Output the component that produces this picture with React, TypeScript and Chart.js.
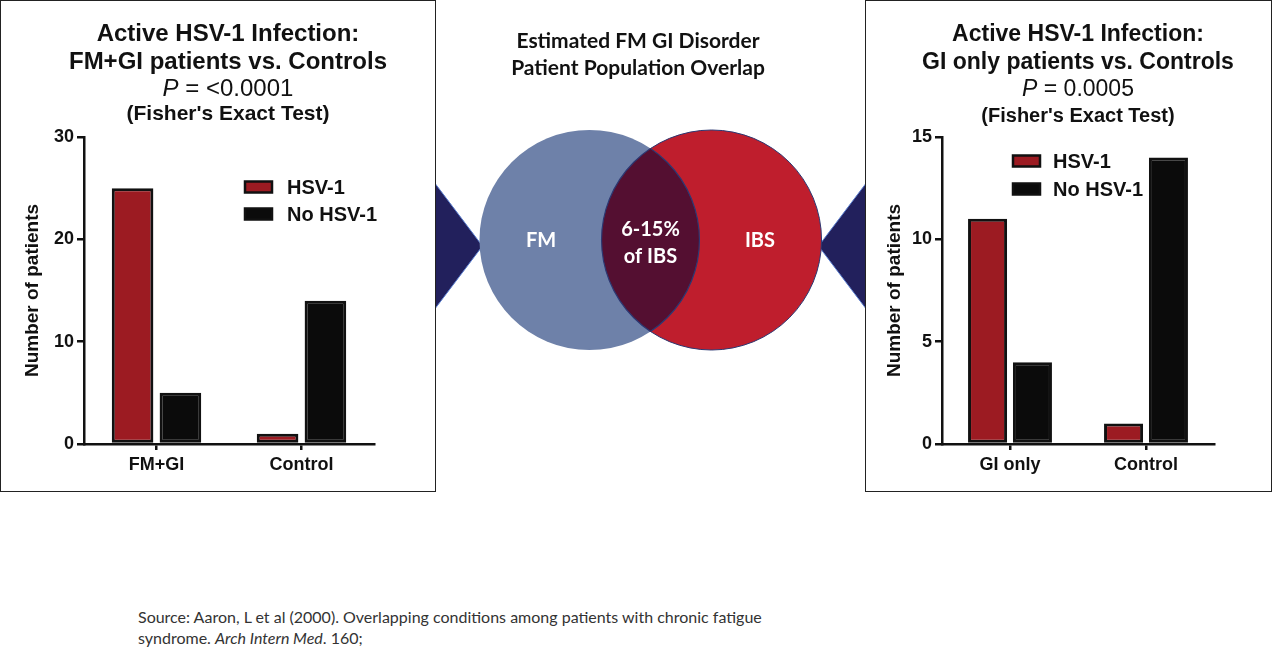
import React, { useEffect, useRef } from 'react';
import { Chart, registerables } from 'chart.js';

Chart.register(...registerables);

// ---------- data ----------
const seriesNames = ['HSV-1', 'No HSV-1'];

const leftCategories = ['FM+GI', 'Control'];
const leftHsv = [25, 1];
const leftNoHsv = [5, 14];
const leftYMax = 30;
const leftYStep = 10;

const rightCategories = ['GI only', 'Control'];
const rightHsv = [11, 1];
const rightNoHsv = [4, 14];
const rightYMax = 15;
const rightYStep = 5;

const yAxisTitle = 'Number of patients';

const vennSets = ['FM', 'IBS'];
const vennCenters = [-0.555, 0.555]; // centre offsets, in circle radii
const overlapLines = ['6-15%', 'of IBS'];

// ---------- styles ----------
const ARIAL = '"Liberation Sans", Arial, Helvetica, sans-serif';
const CAL = 'Lato, "Open Sans", sans-serif';
const RED = '#9c1b22';
const BLACK = '#0b0b0b';
const INK = '#111111';
const vennFill = ['#6e81a9', '#bf1e2d'];
const vennEdge = ['rgba(0,0,0,0)', '#2c3872'];
const OVERLAP = '#540f31';
const NAVY = '#22205c';
const VENN_W = 431;
const VENN_H = 480;
const CIRCLE_R = 110; // px per radius unit

const insideLegend = {
  id: 'insideLegend',
  afterDraw(chart: any, _args: any, opts: any) {
    const ctx = chart.ctx;
    ctx.save();
    chart.data.datasets.forEach((ds: any, i: number) => {
      const y = opts.y + i * opts.gap;
      ctx.fillStyle = ds.backgroundColor;
      ctx.fillRect(opts.x, y - 5.5, 27, 11);
      ctx.strokeStyle = INK;
      ctx.lineWidth = 2.5;
      ctx.strokeRect(opts.x, y - 5.5, 27, 11);
      ctx.fillStyle = INK;
      ctx.font = `bold ${opts.size}px ${ARIAL}`;
      ctx.textBaseline = 'middle';
      ctx.textAlign = 'left';
      ctx.fillText(ds.label, opts.x + opts.textOffset, y + 1);
    });
    ctx.restore();
  },
};

type Area = { left: number; top: number; right: number; bottom: number };
type TitleLine = { text: React.ReactNode; cy: number; size: number; bold: boolean };

function BarPanel(p: {
  left: number;
  width: number;
  height: number;
  categories: string[];
  hsv: number[];
  noHsv: number[];
  yMax: number;
  yStep: number;
  area: Area;
  yTitleX: number;
  legend: { x: number; y: number; gap: number; textOffset: number; size: number };
  titleCx: number;
  titles: TitleLine[];
}) {
  const ref = useRef<HTMLCanvasElement>(null);
  useEffect(() => {
    const titleSize = 19;
    const lineH = titleSize * 1.2;
    const chart = new Chart(ref.current as HTMLCanvasElement, {
      type: 'bar',
      data: {
        labels: p.categories,
        datasets: [
          {
            label: seriesNames[0],
            data: p.hsv,
            backgroundColor: RED,
            borderColor: INK,
            borderWidth: 3,
            borderSkipped: false,
            barPercentage: 0.87,
            categoryPercentage: 0.66,
          },
          {
            label: seriesNames[1],
            data: p.noHsv,
            backgroundColor: BLACK,
            borderColor: INK,
            borderWidth: 3,
            borderSkipped: false,
            barPercentage: 0.87,
            categoryPercentage: 0.66,
          },
        ],
      },
      options: {
        animation: false,
        responsive: false,
        maintainAspectRatio: false,
        events: [],
        layout: {
          padding: { top: p.area.top, right: p.width - p.area.right, left: 0, bottom: 0 },
        },
        plugins: {
          legend: { display: false },
          tooltip: { enabled: false },
          insideLegend: p.legend,
        } as any,
        scales: {
          x: {
            grid: {
              display: true,
              drawOnChartArea: false,
              drawTicks: true,
              tickLength: 6,
              color: INK,
              lineWidth: 2.5,
              offset: false,
            },
            border: { display: true, color: INK, width: 2.5 },
            ticks: { font: { family: ARIAL, size: 18, weight: 'bold' }, color: INK, padding: 4 },
            afterFit: (s: any) => {
              s.height = p.height - p.area.bottom;
            },
          },
          y: {
            min: 0,
            max: p.yMax,
            ticks: {
              stepSize: p.yStep,
              font: { family: ARIAL, size: 18, weight: 'bold' },
              color: INK,
              padding: 3,
            },
            grid: {
              display: true,
              drawOnChartArea: false,
              drawTicks: true,
              tickLength: 7,
              color: INK,
              lineWidth: 2.5,
            },
            border: { display: true, color: INK, width: 2.5 },
            title: {
              display: true,
              text: yAxisTitle,
              font: { family: ARIAL, size: titleSize, weight: 'bold' },
              color: INK,
              padding: { top: p.yTitleX - lineH / 2, bottom: 0 },
            },
            afterFit: (s: any) => {
              s.width = p.area.left;
            },
          },
        },
      },
      plugins: [insideLegend],
    } as any);
    return () => chart.destroy();
  }, []);

  return (
    <div
      style={{
        position: 'absolute',
        left: p.left,
        top: 0,
        width: p.width,
        height: p.height,
        background: '#fff',
      }}
    >
      <canvas
        ref={ref}
        width={p.width}
        height={p.height}
        style={{ position: 'absolute', left: 0, top: 0, width: p.width, height: p.height }}
      />
      {p.titles.map((t, i) => (
        <div
          key={i}
          style={{
            position: 'absolute',
            left: p.titleCx - 220,
            width: 440,
            top: t.cy - 16,
            height: 32,
            lineHeight: '32px',
            textAlign: 'center',
            fontFamily: ARIAL,
            fontSize: t.size,
            fontWeight: t.bold ? 'bold' : 'normal',
            color: INK,
            whiteSpace: 'nowrap',
          }}
        >
          {t.text}
        </div>
      ))}
      <div
        style={{
          position: 'absolute',
          left: 0,
          top: 0,
          width: p.width,
          height: p.height,
          boxSizing: 'border-box',
          border: '1.5px solid #222',
          pointerEvents: 'none',
        }}
      />
    </div>
  );
}

const vennPlugin = {
  id: 'vennDecor',
  beforeDatasetsDraw(chart: any) {
    const ctx = chart.ctx;
    const a = chart.getDatasetMeta(0).data[0];
    const b = chart.getDatasetMeta(1).data[0];
    const ra = CIRCLE_R;
    const rb = CIRCLE_R;
    const { left, right } = chart.chartArea;
    const h = 0.57 * ra;
    const dy = 0.055 * ra;
    ctx.save();
    ctx.fillStyle = NAVY;
    ctx.strokeStyle = '#5b7fd0';
    ctx.lineWidth = 1;
    ctx.beginPath();
    ctx.moveTo(left, a.y + dy - h);
    ctx.lineTo(a.x - ra + 3, a.y + dy);
    ctx.lineTo(left, a.y + dy + h);
    ctx.closePath();
    ctx.fill();
    ctx.stroke();
    ctx.beginPath();
    ctx.moveTo(right, b.y + dy - h);
    ctx.lineTo(b.x + rb - 3, b.y + dy);
    ctx.lineTo(right, b.y + dy + h);
    ctx.closePath();
    ctx.fill();
    ctx.stroke();
    ctx.restore();
  },
  afterDatasetsDraw(chart: any) {
    const ctx = chart.ctx;
    const a = chart.getDatasetMeta(0).data[0];
    const b = chart.getDatasetMeta(1).data[0];
    const ra = CIRCLE_R;
    const rb = CIRCLE_R;
    ctx.save();
    ctx.beginPath();
    ctx.arc(a.x, a.y, ra, 0, Math.PI * 2);
    ctx.clip();
    ctx.beginPath();
    ctx.arc(b.x, b.y, rb, 0, Math.PI * 2);
    ctx.fillStyle = OVERLAP;
    ctx.fill();
    ctx.strokeStyle = '#2c3872';
    ctx.lineWidth = 1.2;
    ctx.stroke();
    ctx.restore();
    ctx.save();
    ctx.beginPath();
    ctx.arc(b.x, b.y, rb, 0, Math.PI * 2);
    ctx.clip();
    ctx.beginPath();
    ctx.arc(a.x, a.y, ra, 0, Math.PI * 2);
    ctx.strokeStyle = '#2c3872';
    ctx.lineWidth = 1.2;
    ctx.stroke();
    ctx.restore();

    ctx.save();
    ctx.fillStyle = '#ffffff';
    ctx.font = `bold 20px ${CAL}`;
    ctx.textAlign = 'center';
    ctx.textBaseline = 'middle';
    ctx.fillText(vennSets[0], a.x - 0.44 * ra, a.y + 1);
    ctx.fillText(vennSets[1], b.x + 0.44 * rb, b.y + 1);
    const mx = (a.x + b.x) / 2;
    ctx.fillText(overlapLines[0], mx, a.y - 10);
    ctx.fillText(overlapLines[1], mx, a.y + 17);
    ctx.restore();
  },
};

function VennPanel() {
  const ref = useRef<HTMLCanvasElement>(null);
  useEffect(() => {
    const hx = VENN_W / 2 / CIRCLE_R;
    const hy = VENN_H / 2 / CIRCLE_R;
    const chart = new Chart(ref.current as HTMLCanvasElement, {
      type: 'bubble',
      data: {
        datasets: vennSets.map((label, i) => ({
          label,
          data: [{ x: vennCenters[i], y: 0 }],
          backgroundColor: vennFill[i],
          borderColor: vennEdge[i],
          borderWidth: i === 1 ? 1 : 0,
          radius: CIRCLE_R,
          hoverRadius: 0,
          clip: false,
        })),
      },
      options: {
        animation: false,
        responsive: false,
        maintainAspectRatio: false,
        events: [],
        layout: { padding: 0, autoPadding: false },
        plugins: { legend: { display: false }, tooltip: { enabled: false } },
        scales: {
          x: { display: false, min: -hx, max: hx },
          y: { display: false, min: -hy, max: hy },
        },
      },
      plugins: [vennPlugin],
    } as any);
    return () => chart.destroy();
  }, []);
  return (
    <canvas
      ref={ref}
      width={VENN_W}
      height={VENN_H}
      style={{ position: 'absolute', left: 435, top: 0, width: VENN_W, height: VENN_H }}
    />
  );
}

export default function App() {
  const leftTitles: TitleLine[] = [
    { text: 'Active HSV-1 Infection:', cy: 33, size: 24, bold: true },
    { text: 'FM+GI patients vs. Controls', cy: 61, size: 24, bold: true },
    {
      text: (
        <span>
          <i>P</i> = &lt;0.0001
        </span>
      ),
      cy: 88,
      size: 24,
      bold: false,
    },
    { text: "(Fisher's Exact Test)", cy: 113, size: 21, bold: true },
  ];
  const rightTitles: TitleLine[] = [
    { text: 'Active HSV-1 Infection:', cy: 33, size: 23, bold: true },
    { text: 'GI only patients vs. Controls', cy: 61, size: 23, bold: true },
    {
      text: (
        <span>
          <i>P</i> = 0.0005
        </span>
      ),
      cy: 88,
      size: 23,
      bold: false,
    },
    { text: "(Fisher's Exact Test)", cy: 115, size: 20, bold: true },
  ];

  return (
    <div
      style={{
        position: 'absolute',
        left: 0,
        top: 0,
        width: 1272,
        height: 648,
        background: '#ffffff',
        overflow: 'hidden',
      }}
    >
      <VennPanel />
      <div
        style={{
          position: 'absolute',
          left: 438,
          width: 400,
          top: 26,
          textAlign: 'center',
          fontFamily: CAL,
          fontWeight: 'bold',
          fontSize: 21,
          lineHeight: '27px',
          color: '#111',
          whiteSpace: 'nowrap',
        }}
      >
        <div>Estimated FM GI Disorder</div>
        <div>Patient Population Overlap</div>
      </div>
      <BarPanel
        left={0}
        width={436}
        height={492}
        categories={leftCategories}
        hsv={leftHsv}
        noHsv={leftNoHsv}
        yMax={leftYMax}
        yStep={leftYStep}
        area={{ left: 84, top: 137, right: 374, bottom: 444 }}
        yTitleX={33}
        legend={{ x: 245, y: 187, gap: 27, textOffset: 42, size: 20 }}
        titleCx={228}
        titles={leftTitles}
      />
      <BarPanel
        left={865}
        width={407}
        height={492}
        categories={rightCategories}
        hsv={rightHsv}
        noHsv={rightNoHsv}
        yMax={rightYMax}
        yStep={rightYStep}
        area={{ left: 77, top: 137, right: 349, bottom: 444 }}
        yTitleX={30}
        legend={{ x: 148, y: 161, gap: 28, textOffset: 40, size: 20 }}
        titleCx={213}
        titles={rightTitles}
      />
      <div
        style={{
          position: 'absolute',
          left: 138,
          top: 606,
          fontFamily: CAL,
          fontSize: 16,
          lineHeight: '21px',
          color: '#333',
          whiteSpace: 'nowrap',
        }}
      >
        <div>Source: Aaron, L et al (2000). Overlapping conditions among patients with chronic fatigue</div>
        <div>
          syndrome. <i>Arch Intern Med</i>. 160;
        </div>
      </div>
    </div>
  );
}
